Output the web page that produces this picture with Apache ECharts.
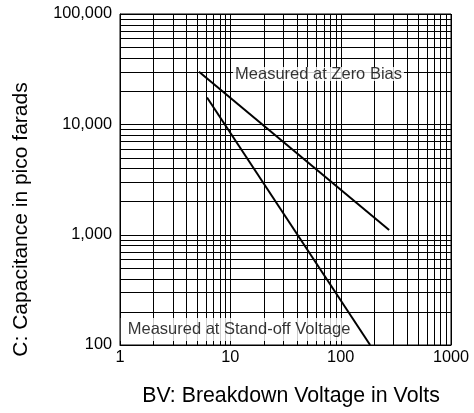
<!DOCTYPE html>
<html>
<head>
<meta charset="utf-8">
<script src="https://cdn.jsdelivr.net/npm/echarts@6/dist/echarts.min.js"></script>
<style>html,body{margin:0;padding:0;background:#fff;}#c{width:474px;height:413px;}</style>
</head>
<body>
<div id="c"></div>
<script>
// Data
const zeroBiasV = [5.2, 275];
const zeroBiasC = [30000, 1100];
const standOffV = [6.15, 185];
const standOffC = [17500, 100];

// Axis ticks
const xTickValues = [1, 10, 100, 1000];
const xTickLabels = ['1', '10', '100', '1000'];
const yTickValues = [100, 1000, 10000, 100000];
const yTickLabels = ['100', '1,000', '10,000', '100,000'];

// Log-paper grid lines
const gridV = [1,2,3,4,5,6,7,8,9,10,20,30,40,50,60,70,80,90,100,200,300,400,500,600,700,800,900,1000];
const gridC = [100,200,300,400,500,600,700,800,900,1000,2000,3000,4000,5000,6000,7000,8000,9000,
               10000,20000,30000,40000,50000,60000,70000,80000,90000,100000];

// Annotation labels (anchor in data coords)
const labelNames = ['Measured at Zero Bias', 'Measured at Stand-off Voltage'];
const labelV = [63, 11.26];
const labelC = [28600, 138];

const xMin = xTickValues[0], xMax = xTickValues[xTickValues.length - 1];
const yMin = yTickValues[0], yMax = yTickValues[yTickValues.length - 1];

const FONT = 'Liberation Sans, Arial, sans-serif';

const chart = echarts.init(document.getElementById('c'), null, {renderer: 'canvas'});

function vLine(params, api) {
  const x = api.coord([api.value(0), yMin])[0];
  const yb = api.coord([xMin, yMin])[1];
  const yt = api.coord([xMin, yMax])[1];
  const xr = Math.round(x) + 0.5;
  return {type: 'line', shape: {x1: xr, y1: yt, x2: xr, y2: yb}, style: {stroke: '#000', lineWidth: 1}};
}
function hLine(params, api) {
  const y = api.coord([xMin, api.value(1)])[1];
  const xl = api.coord([xMin, yMin])[0];
  const xr = api.coord([xMax, yMin])[0];
  const yr = Math.round(y) + 0.5;
  return {type: 'line', shape: {x1: xl, y1: yr, x2: xr, y2: yr}, style: {stroke: '#000', lineWidth: 1}};
}

chart.setOption({
  animation: false,
  backgroundColor: '#fff',
  grid: {left: 120, right: 23, top: 14, bottom: 68, show: true, borderColor: '#000', borderWidth: 1, containLabel: false},
  xAxis: {
    type: 'log', logBase: 10, min: xMin, max: xMax,
    name: 'BV: Breakdown Voltage in Volts', nameLocation: 'middle', nameGap: 41,
    nameTextStyle: {fontFamily: FONT, fontSize: 21.3, color: '#000', padding: [0, 0, 0, 11]},
    axisLine: {show: true, lineStyle: {color: '#000', width: 1}},
    axisTick: {show: false},
    splitLine: {show: false},
    axisLabel: {fontFamily: FONT, fontSize: 16.3, color: '#000', margin: 5,
      formatter: v => { const i = xTickValues.indexOf(Math.round(v)); return i >= 0 ? xTickLabels[i] : ''; }}
  },
  yAxis: {
    type: 'log', logBase: 10, min: yMin, max: yMax,
    name: 'C: Capacitance in pico farads', nameLocation: 'middle', nameGap: 88,
    nameTextStyle: {fontFamily: FONT, fontSize: 21, color: '#000', padding: [0, 80, 0, 0]},
    axisLine: {show: true, lineStyle: {color: '#000', width: 1}},
    axisTick: {show: false},
    splitLine: {show: false},
    axisLabel: {fontFamily: FONT, fontSize: 16.3, color: '#000', margin: 8,
      formatter: v => { const i = yTickValues.indexOf(Math.round(v)); return i >= 0 ? yTickLabels[i] : ''; }}
  },
  series: [
    {type: 'custom', z: 1, silent: true, renderItem: vLine, data: gridV.map(v => [v, yMin]), clip: false},
    {type: 'custom', z: 1, silent: true, renderItem: hLine, data: gridC.map(c => [xMin, c]), clip: false},
    {type: 'scatter', z: 5, symbolSize: 0, silent: true,
      data: labelNames.map((n, i) => ({
        value: [labelV[i], labelC[i]], name: n,
        label: i === 0
          ? {padding: [0, 2, 0, 2], lineHeight: 14}
          : {padding: [3, 1, 4, 7], lineHeight: 16}
      })),
      label: {show: true, position: 'inside', formatter: p => p.name, fontFamily: FONT, fontSize: 16.5,
        color: '#000', backgroundColor: '#fff'}},
    {type: 'line', z: 6, name: 'Zero Bias', showSymbol: false, symbol: 'none',
      data: zeroBiasV.map((v, i) => [v, zeroBiasC[i]]), lineStyle: {color: '#000', width: 2}},
    {type: 'line', z: 6, name: 'Stand-off', showSymbol: false, symbol: 'none',
      data: standOffV.map((v, i) => [v, standOffC[i]]), lineStyle: {color: '#000', width: 2}}
  ]
});
</script>
</body>
</html>
